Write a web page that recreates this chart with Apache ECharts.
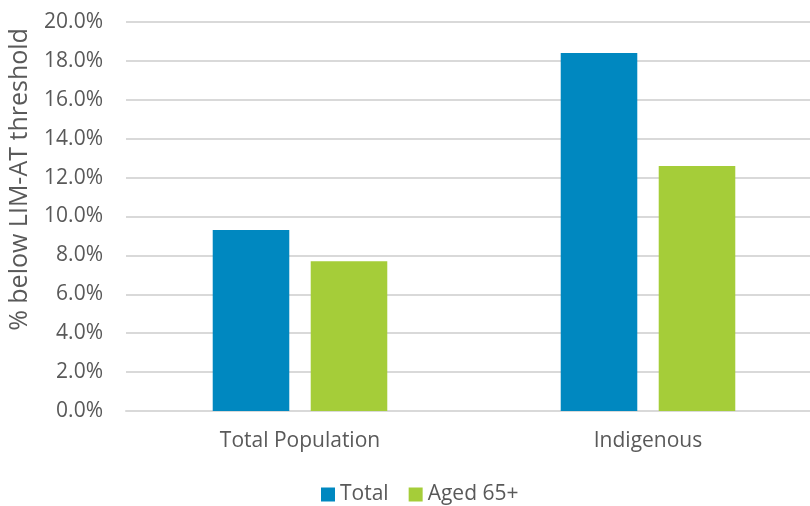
<!DOCTYPE html>
<html>
<head>
<meta charset="utf-8">
<script src="https://cdn.jsdelivr.net/npm/echarts@6/dist/echarts.min.js"></script>
<style>
  html, body { margin: 0; padding: 0; background: #fff; }
  #chart { width: 810px; height: 506px; }
</style>
</head>
<body>
<div id="chart"></div>
<script>
const categories = ['Total Population', 'Indigenous'];
const totalValues = [9.3, 18.4];
const aged65Values = [7.7, 12.6];
const seriesNames = ['Total', 'Aged 65+'];

const font = '"Open Sans", "Liberation Sans", sans-serif';
const textColor = '#595959';

const chart = echarts.init(document.getElementById('chart'));
chart.setOption({
  animation: false,
  textStyle: { fontFamily: font, color: textColor },
  grid: { left: 126, top: 22, right: -12, bottom: 95, outerBoundsMode: 'none', containLabel: false },
  legend: {
    bottom: -4,
    left: 316,
    itemWidth: 14,
    itemHeight: 14,
    itemGap: 20,
    icon: 'rect',
    textStyle: { fontFamily: font, fontSize: 21, color: textColor },
    data: seriesNames
  },
  xAxis: {
    type: 'category',
    data: categories,
    axisTick: { show: false },
    axisLine: { lineStyle: { color: '#d9d9d9', width: 2 } },
    axisLabel: { fontFamily: font, fontSize: 21, color: textColor, margin: 20 }
  },
  yAxis: {
    type: 'value',
    min: 0,
    max: 20,
    interval: 2,
    name: '% below LIM-AT threshold',
    nameLocation: 'middle',
    nameGap: 94,
    nameTextStyle: { fontFamily: font, fontSize: 25, color: textColor, padding: [0, 0, 0, 74] },
    axisLabel: {
      fontFamily: font, fontSize: 21, color: textColor, margin: 23,
      formatter: v => v.toFixed(1) + '%'
    },
    splitLine: { lineStyle: { color: '#d9d9d9', width: 2 } }
  },
  series: [
    {
      name: seriesNames[0],
      type: 'bar',
      data: totalValues,
      barWidth: '22%',
      barGap: '28%',
      itemStyle: { color: '#0088c0' }
    },
    {
      name: seriesNames[1],
      type: 'bar',
      data: aged65Values,
      barWidth: '22%',
      itemStyle: { color: '#a5cd39' }
    }
  ]
});
</script>
</body>
</html>
